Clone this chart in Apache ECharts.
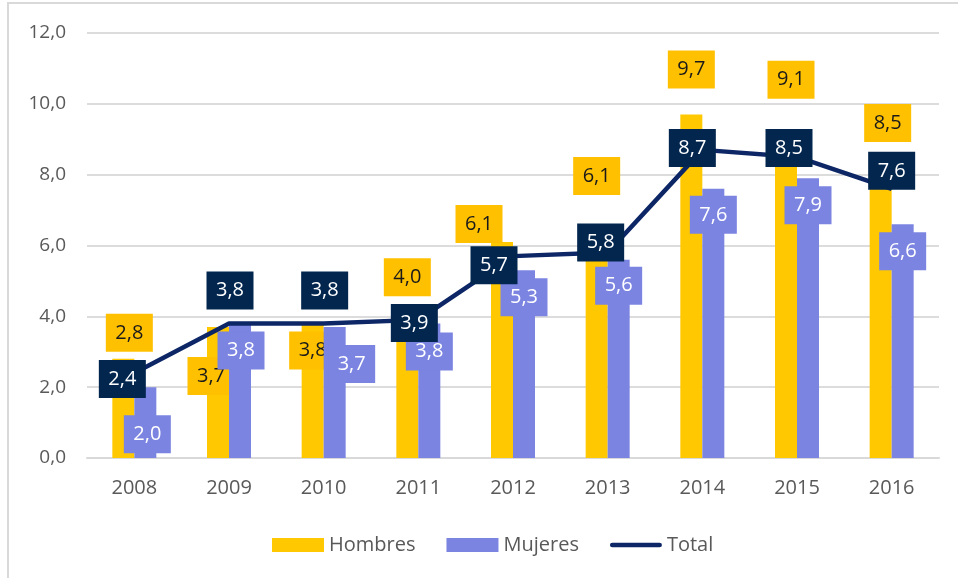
<!DOCTYPE html>
<html>
<head>
<meta charset="utf-8">
<script src="https://cdn.jsdelivr.net/npm/echarts@6/dist/echarts.min.js"></script>
<style>
  html, body { margin: 0; padding: 0; background: #fff; }
  #chart { width: 958px; height: 578px; }
</style>
</head>
<body>
<div id="chart"></div>
<script>
let years = ['2008', '2009', '2010', '2011', '2012', '2013', '2014', '2015', '2016']
let hombres = [2.8, 3.7, 3.8, 4.0, 6.1, 6.1, 9.7, 9.1, 8.5]
let mujeres = [2.0, 3.8, 3.7, 3.8, 5.3, 5.6, 7.6, 7.9, 6.6]
let total = [2.4, 3.8, 3.8, 3.9, 5.7, 5.8, 8.7, 8.5, 7.6]

// label nudges (px), like the hand-placed labels of the original
let hombresLabelShift = [[6, -26], [-7, 49], [0, 27], [0, -39], [-23, -18], [0, -66], [0, -45], [5, -56], [7, -34]]
let mujeresLabelShift = [[2, 47], [1, 27], [17, 37], [0, 28], [0, 27], [0, 26], [0, 26], [0, 27], [0, 27]]
let totalLabelShift = [[-12, 6], [1, -33], [1, -33], [-4, 3], [-19, 9], [-7, -10], [-10, -2], [-8, -9], [0, -18]]

const FONT = 'Open Sans'
const fmt = v => v.toFixed(1).replace('.', ',')

function withShift(values, shifts) {
    return values.map((v, i) => ({ value: v, label: { offset: shifts[i] } }))
}

function boxLabel(bg, color, position) {
    return {
        show: true,
        position: position,
        distance: 0,
        align: 'center',
        verticalAlign: 'middle',
        formatter: p => fmt(p.value),
        fontFamily: FONT,
        fontSize: 20,
        color: color,
        backgroundColor: bg,
        width: 47,
        lineHeight: 23,
        padding: [8, 0, 7, 0]
    }
}

let chart = echarts.init(document.getElementById('chart'))

chart.setOption({
    animation: false,
    textStyle: { fontFamily: FONT },
    graphic: [{
        type: 'rect',
        shape: { x: 8, y: 3, width: 1000, height: 700 },
        style: { fill: 'none', stroke: '#D9D9D9', lineWidth: 2 },
        silent: true
    }],
    grid: { left: 87, right: 19, top: 33, bottom: 120 },
    legend: {
        left: 267,
        top: 530,
        itemWidth: 52,
        itemHeight: 14,
        itemGap: 31,
        textStyle: { fontFamily: FONT, fontSize: 20, color: '#595959' },
        data: [
            { name: 'Hombres', icon: 'rect' },
            { name: 'Mujeres', icon: 'rect' },
            { name: 'Total', icon: 'path://M3,0 H53 A2.5,2.5 0 0 1 53,5 H3 A2.5,2.5 0 0 1 3,0 Z' }
        ]
    },
    xAxis: {
        type: 'category',
        data: years,
        axisTick: { show: false },
        axisLine: { lineStyle: { color: '#D9D9D9', width: 2 } },
        axisLabel: { color: '#595959', fontSize: 20, margin: 20, fontFamily: FONT }
    },
    yAxis: {
        type: 'value',
        min: 0,
        max: 12,
        interval: 2,
        axisLine: { show: false },
        axisTick: { show: false },
        axisLabel: { color: '#595959', fontSize: 19, margin: 21, fontFamily: FONT, formatter: fmt },
        splitLine: { lineStyle: { color: '#DCDCDC', width: 2 } }
    },
    series: [{
        name: 'Hombres',
        type: 'bar',
        barWidth: 22,
        barGap: '0%',
        itemStyle: { color: '#FFC800' },
        label: boxLabel('#FFC000', '#1A1A1A', 'top'),
        data: withShift(hombres, hombresLabelShift),
        z: 2
    }, {
        name: 'Mujeres',
        type: 'bar',
        barWidth: 22,
        barGap: '0%',
        itemStyle: { color: '#7B84E0' },
        label: boxLabel('#7B84E0', '#FFFFFF', 'top'),
        data: withShift(mujeres, mujeresLabelShift),
        z: 3
    }, {
        name: 'Total',
        type: 'line',
        symbol: 'circle',
        symbolSize: 1,
        showSymbol: true,
        itemStyle: { color: '#0D2766' },
        lineStyle: { color: '#0D2766', width: 4.5 },
        label: boxLabel('#03264F', '#FFFFFF', 'inside'),
        data: withShift(total, totalLabelShift),
        z: 4
    }]
})
</script>
</body>
</html>
